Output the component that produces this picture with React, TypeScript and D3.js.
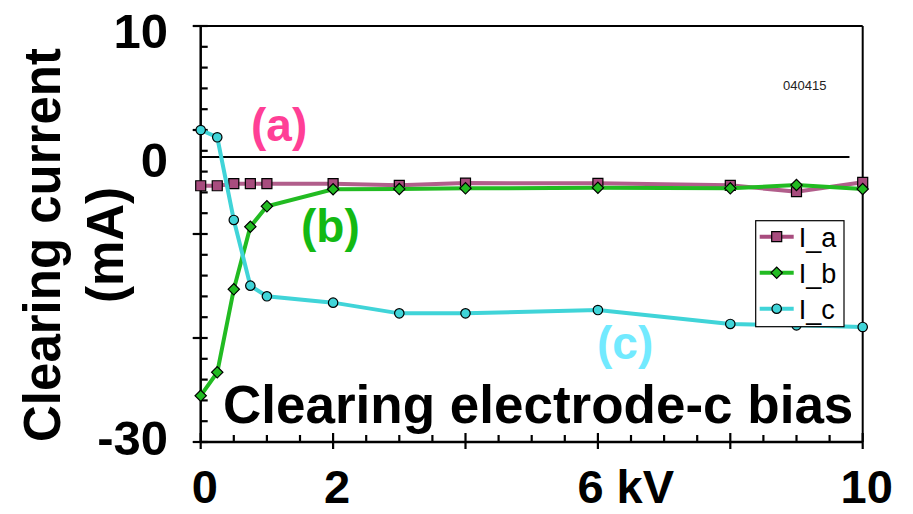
import React, { useRef, useEffect } from "react";
import * as d3 from "d3";

// electrode-c bias (kV)
const biasKV = [0, 0.25, 0.5, 0.75, 1, 2, 3, 4, 6, 8, 9, 10];
// clearing currents (mA)
const currentA = [-5.36, -5.36, -5.16, -5.16, -5.16, -5.16, -5.32, -5.1, -5.13, -5.32, -5.93, -5.03];
const currentB = [-25.55, -23.3, -15.32, -9.3, -7.34, -5.7, -5.67, -5.61, -5.55, -5.61, -5.29, -5.67];
const currentC = [0, -0.7, -8.65, -14.97, -15.99, -16.6, -17.63, -17.63, -17.31, -18.65, -18.78, -18.94];

const seriesNames = ["I_a", "I_b", "I_c"];
const seriesColors = ["#a84c7e", "#22bb22", "#40d4d8"];

const yTickValues = [10, 0, -30];
const xTickValues = [0, 2, 6, 10];
const xTickLabels = ["0", "2", "6 kV", "10"];
const zeroLineLevel = -2.6; // where the "0" reference line sits on this axis

const FONT = "'Liberation Sans', Arial, Helvetica, sans-serif";

const App = () => {
  const svgRef = useRef<SVGSVGElement>(null);

  useEffect(() => {
    const width = 913;
    const height = 514;
    const svg = d3.select(svgRef.current);
    svg.selectAll("*").remove();
    svg.attr("width", width).attr("height", height);

    const x = d3.scaleLinear().domain([0, 10]).range([200.7, 862.7]);
    const y = d3.scaleLinear().domain([-30, 10]).range([442, 26]);

    const g = svg.append("g");

    // frame
    const frame = g.append("g").attr("stroke", "#000").attr("stroke-width", 2.5);
    frame.append("line").attr("x1", x(0)).attr("x2", x(0)).attr("y1", y(10)).attr("y2", y(-30));
    frame.append("line").attr("x1", x(0)).attr("x2", x(10)).attr("y1", y(-30)).attr("y2", y(-30));
    frame.append("line").attr("x1", x(0)).attr("x2", x(10)).attr("y1", y(10)).attr("y2", y(10)).attr("stroke-width", 2);
    frame.append("line").attr("x1", x(10)).attr("x2", x(10)).attr("y1", y(10)).attr("y2", y(-30)).attr("stroke-width", 2);

    // y ticks (every 2, long every 10)
    d3.range(-30, 10.01, 2).forEach((v) => {
      const major = Math.abs(v % 10) < 1e-6;
      frame
        .append("line")
        .attr("x1", major ? x(0) - 8 : x(0))
        .attr("x2", x(0) + 7)
        .attr("y1", y(v))
        .attr("y2", y(v))
        .attr("stroke-width", 2.2);
    });
    // x ticks (every 0.5, long every 2)
    d3.range(0, 10.01, 0.5).forEach((v) => {
      const major = Math.abs(v % 2) < 1e-6;
      frame
        .append("line")
        .attr("x1", x(v))
        .attr("x2", x(v))
        .attr("y1", major ? y(-30) - 9 : y(-30) - 7)
        .attr("y2", major ? y(-30) + 7 : y(-30))
        .attr("stroke-width", 2.2);
    });

    // zero reference line
    g.append("line")
      .attr("x1", x(0))
      .attr("x2", x(9.8))
      .attr("y1", y(zeroLineLevel))
      .attr("y2", y(zeroLineLevel))
      .attr("stroke", "#000")
      .attr("stroke-width", 2);

    // y tick labels
    yTickValues.forEach((v) => {
      const pos = v === 0 ? y(zeroLineLevel) : y(v);
      g.append("text")
        .attr("x", 168)
        .attr("y", pos + (v === 10 ? 22 : v === 0 ? 20 : 13))
        .attr("text-anchor", "end")
        .attr("font-family", FONT)
        .attr("font-weight", "bold")
        .attr("font-size", 49)
        .text(v);
    });

    // x tick labels
    xTickValues.forEach((v, i) => {
      const isUnit = xTickLabels[i].includes("kV");
      g.append("text")
        .attr("x", isUnit ? x(v) - 20.5 : x(v) + 4)
        .attr("y", 503)
        .attr("text-anchor", isUnit ? "start" : "middle")
        .attr("font-family", FONT)
        .attr("font-weight", "bold")
        .attr("font-size", 47)
        .text(xTickLabels[i]);
    });

    // y axis title
    const yTitle = g
      .append("text")
      .attr("transform", "translate(0,245) rotate(-90)")
      .attr("text-anchor", "middle")
      .attr("font-family", FONT)
      .attr("font-weight", "bold")
      .attr("font-size", 51);
    yTitle.append("tspan").attr("x", 0).attr("y", 60).text("Clearing current");
    yTitle.append("tspan").attr("x", 0).attr("y", 123).text("(mA)");

    // series
    const seriesData = [currentA, currentB, currentC];
    const line = d3
      .line<[number, number]>()
      .x((d) => x(d[0]))
      .y((d) => y(d[1]));
    const symbols = [
      d3.symbol().type(d3.symbolSquare).size(100),
      d3.symbol().type(d3.symbolSquare).size(64),
      d3.symbol().type(d3.symbolCircle).size(70),
    ];

    seriesData.forEach((vals, si) => {
      const pts = biasKV.map((b, i) => [b, vals[i]] as [number, number]);
      g.append("path")
        .attr("d", line(pts))
        .attr("fill", "none")
        .attr("stroke", seriesColors[si])
        .attr("stroke-width", 4)
        .attr("stroke-opacity", si === 0 ? 0.9 : 1);
      g.selectAll(null)
        .data(pts)
        .enter()
        .append("path")
        .attr("d", symbols[si]())
        .attr("transform", (d) => `translate(${x(d[0])},${y(d[1])})${si === 1 ? " rotate(45)" : ""}`)
        .attr("fill", seriesColors[si])
        .attr("stroke", "#000")
        .attr("stroke-width", 1.2);
    });

    // annotations
    const note = (t: string, px: number, py: number, color: string) =>
      g.append("text")
        .attr("x", px)
        .attr("y", py)
        .attr("font-family", FONT)
        .attr("font-weight", "bold")
        .attr("font-size", 46)
        .attr("fill", color)
        .text(t);
    note("(a)", 251, 141, "#ff3f96");
    note("(b)", 301, 242, "#13b913");
    note("(c)", 597, 359, "#72eaff");

    g.append("text")
      .attr("x", 223)
      .attr("y", 423)
      .attr("font-family", FONT)
      .attr("font-weight", "bold")
      .attr("font-size", 53)
      .text("Clearing electrode-c bias");

    g.append("text")
      .attr("x", 783)
      .attr("y", 90)
      .attr("font-family", FONT)
      .attr("font-size", 13)
      .attr("fill", "#222")
      .text("040415");

    // legend
    const legend = g.append("g").attr("transform", "translate(755.7,220.7)");
    legend
      .append("rect")
      .attr("width", 88.3)
      .attr("height", 106)
      .attr("fill", "#fff")
      .attr("stroke", "#000")
      .attr("stroke-width", 1.2);
    seriesNames.forEach((name, si) => {
      const ly = 16 + si * 36;
      legend
        .append("line")
        .attr("x1", 4)
        .attr("x2", 38)
        .attr("y1", ly)
        .attr("y2", ly)
        .attr("stroke", seriesColors[si])
        .attr("stroke-width", 4);
      legend
        .append("path")
        .attr("d", symbols[si]())
        .attr("transform", `translate(21,${ly})${si === 1 ? " rotate(45)" : ""}`)
        .attr("fill", seriesColors[si])
        .attr("stroke", "#000")
        .attr("stroke-width", 1.2);
      legend
        .append("text")
        .attr("x", 43)
        .attr("y", ly + 10)
        .attr("font-family", FONT)
        .attr("font-size", 27)
        .text(name);
    });
  }, []);

  return (
    <div style={{ position: "absolute", left: 0, top: 0, width: 913, height: 514, background: "#fff" }}>
      <svg ref={svgRef}></svg>
    </div>
  );
};

export default App;
